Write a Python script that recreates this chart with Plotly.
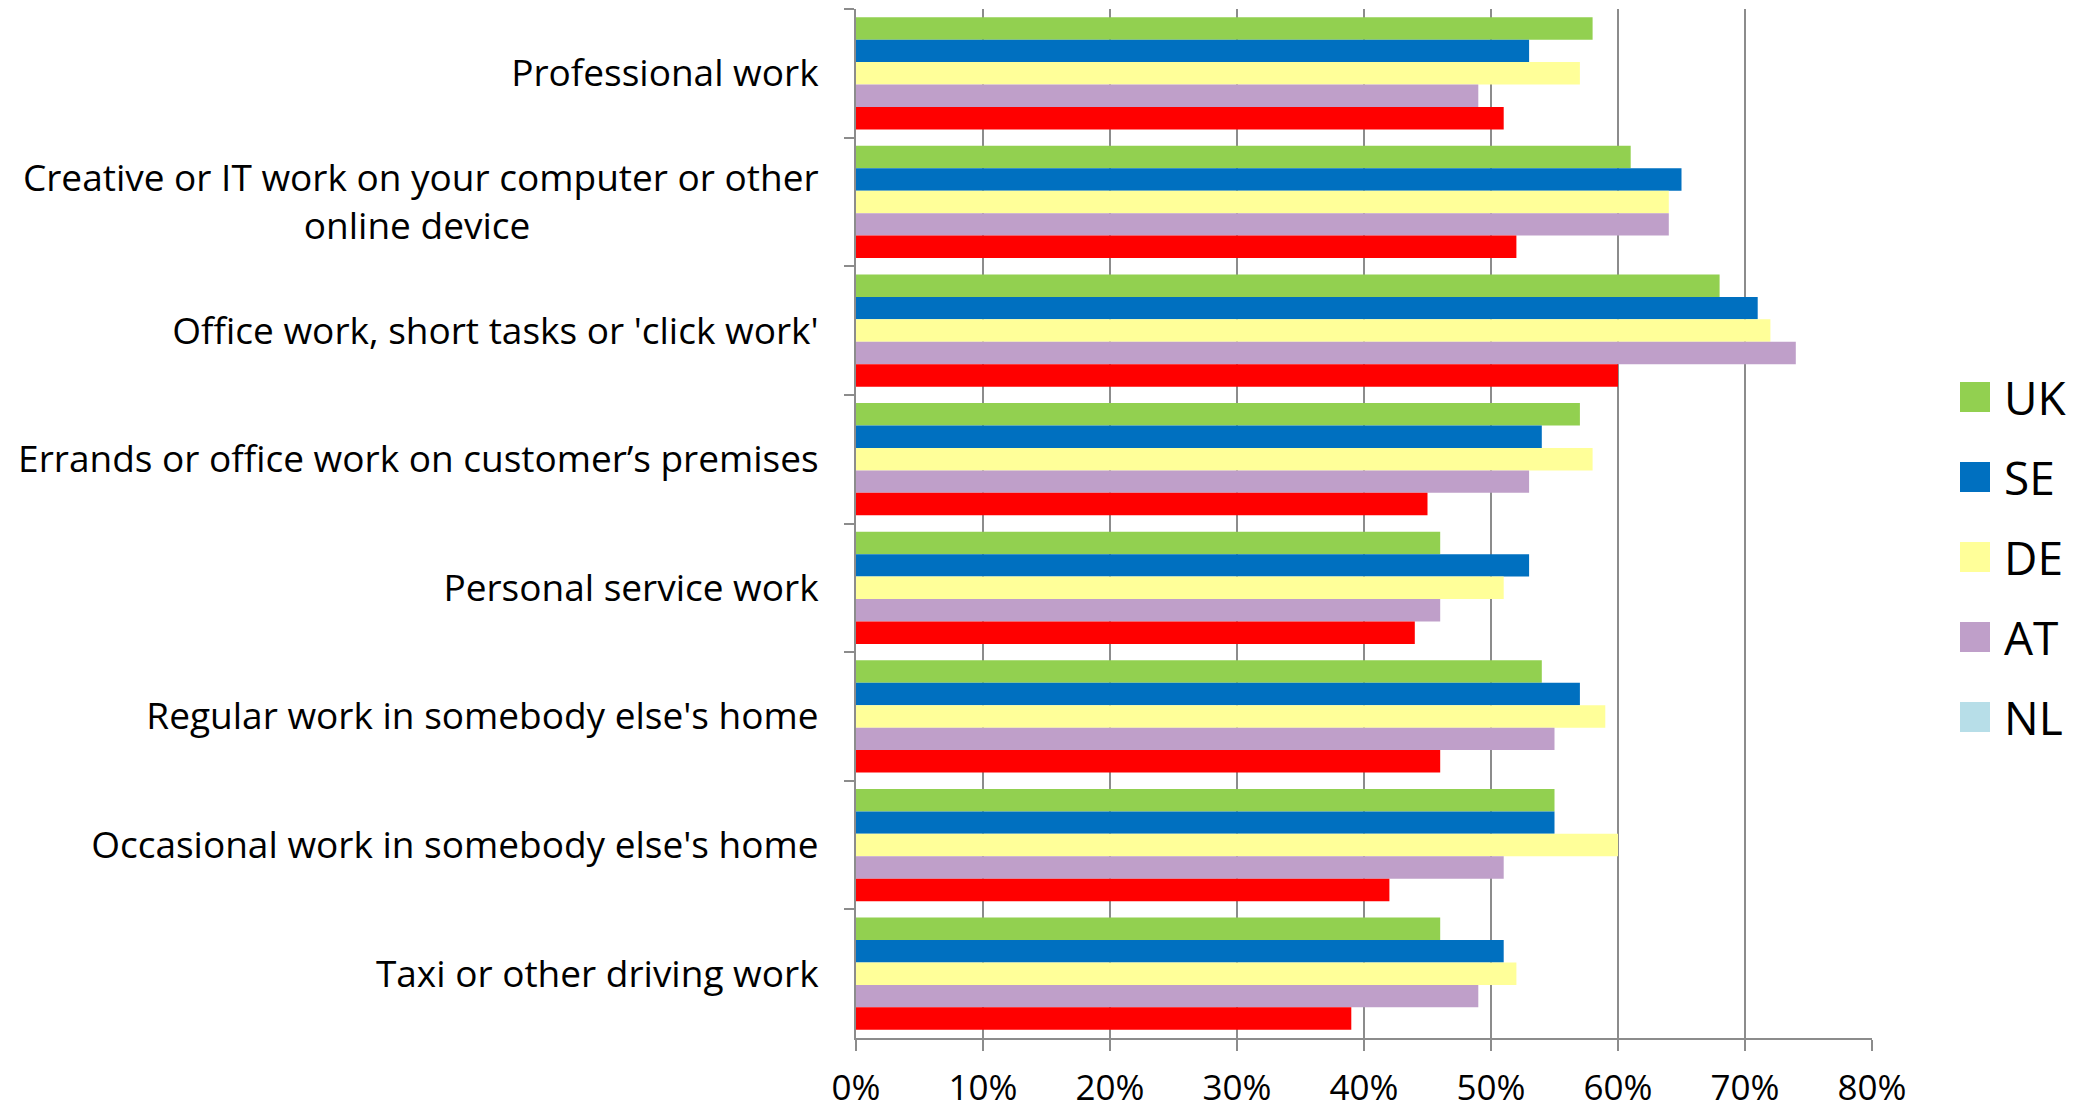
import plotly.graph_objects as go

categories = [
    "Professional work",
    "Creative or IT work on your computer or other<br>online device" + "\u00a0" * 30,
    "Office work, short tasks or 'click work'",
    "Errands or office work on customer\u2019s premises",
    "Personal service work",
    "Regular work in somebody else's home",
    "Occasional work in somebody else's home",
    "Taxi or other driving work",
]
series_names = ["UK", "SE", "DE", "AT", "NL"]
UK = [58, 61, 68, 57, 46, 54, 55, 46]
SE = [53, 65, 71, 54, 53, 57, 55, 51]
DE = [57, 64, 72, 58, 51, 59, 60, 52]
AT = [49, 64, 74, 53, 46, 55, 51, 49]
NL = [51, 52, 60, 45, 44, 46, 42, 39]
series_values = [UK, SE, DE, AT, NL]
bar_colors = ["#92D050", "#0070C0", "#FFFF99", "#BF9FC9", "#FF0000"]
legend_colors = ["#92D050", "#0070C0", "#FFFF99", "#BF9FC9", "#B7DEE8"]
x_ticks = [0, 10, 20, 30, 40, 50, 60, 70, 80]

FONT = "Open Sans, DejaVu Sans, sans-serif"
OFF = 8  # page body margin offset
W, H = 2088 - OFF, 1111 - OFF
ML, MR, MT, MB = 856 - OFF, 216, 9 - OFF, 73

fig = go.Figure()
for name, vals, col in zip(series_names, series_values, bar_colors):
    fig.add_trace(go.Bar(
        y=categories, x=vals, name=name, orientation="h",
        marker=dict(color=col, line=dict(width=0)),
        showlegend=False,
    ))

grid = "#8C8C8C"
fig.update_layout(
    width=W, height=H,
    margin=dict(l=ML, r=MR, t=MT, b=MB, autoexpand=False),
    paper_bgcolor="white", plot_bgcolor="white",
    barmode="group", bargap=0.127, bargroupgap=0,
    font=dict(family=FONT, size=37, color="black"),
    showlegend=False,
    xaxis=dict(
        range=[0, 80], tickvals=x_ticks, ticktext=[f"{t}%" for t in x_ticks],
        showgrid=True, gridcolor=grid, gridwidth=2,
        showline=True, linecolor=grid, linewidth=2,
        ticks="outside", ticklen=11, tickwidth=2, tickcolor=grid,
        ticklabelstandoff=7, zeroline=False, automargin=False,
        tickfont=dict(family=FONT, size=35),
    ),
    yaxis=dict(
        type="category", autorange="reversed", tickson="boundaries",
        showgrid=False, showline=True, linecolor=grid, linewidth=2,
        ticks="outside", ticklen=10, tickwidth=2, tickcolor=grid,
        ticklabelstandoff=28, automargin=False,
        tickfont=dict(family=FONT, size=37),
    ),
)

# legend keys (large squares like the original), positions in page pixels
pw = W - ML - MR
ph = H - MT - MB
def px_x(x):
    return (x - OFF - ML) / pw
def px_y(y):
    return (H - MB - (y - OFF)) / ph

for i, (name, col) in enumerate(zip(series_names, legend_colors)):
    cy = 397 + 80 * i
    fig.add_shape(type="rect", xref="paper", yref="paper",
                  x0=px_x(1960), x1=px_x(1990), y0=px_y(cy + 15), y1=px_y(cy - 15),
                  fillcolor=col, line=dict(width=0))
    fig.add_annotation(xref="paper", yref="paper", x=px_x(2002), y=px_y(cy),
                       xanchor="left", yanchor="middle", text=name, showarrow=False,
                       font=dict(family=FONT, size=46, color="black"))

fig.write_html("out.html")
